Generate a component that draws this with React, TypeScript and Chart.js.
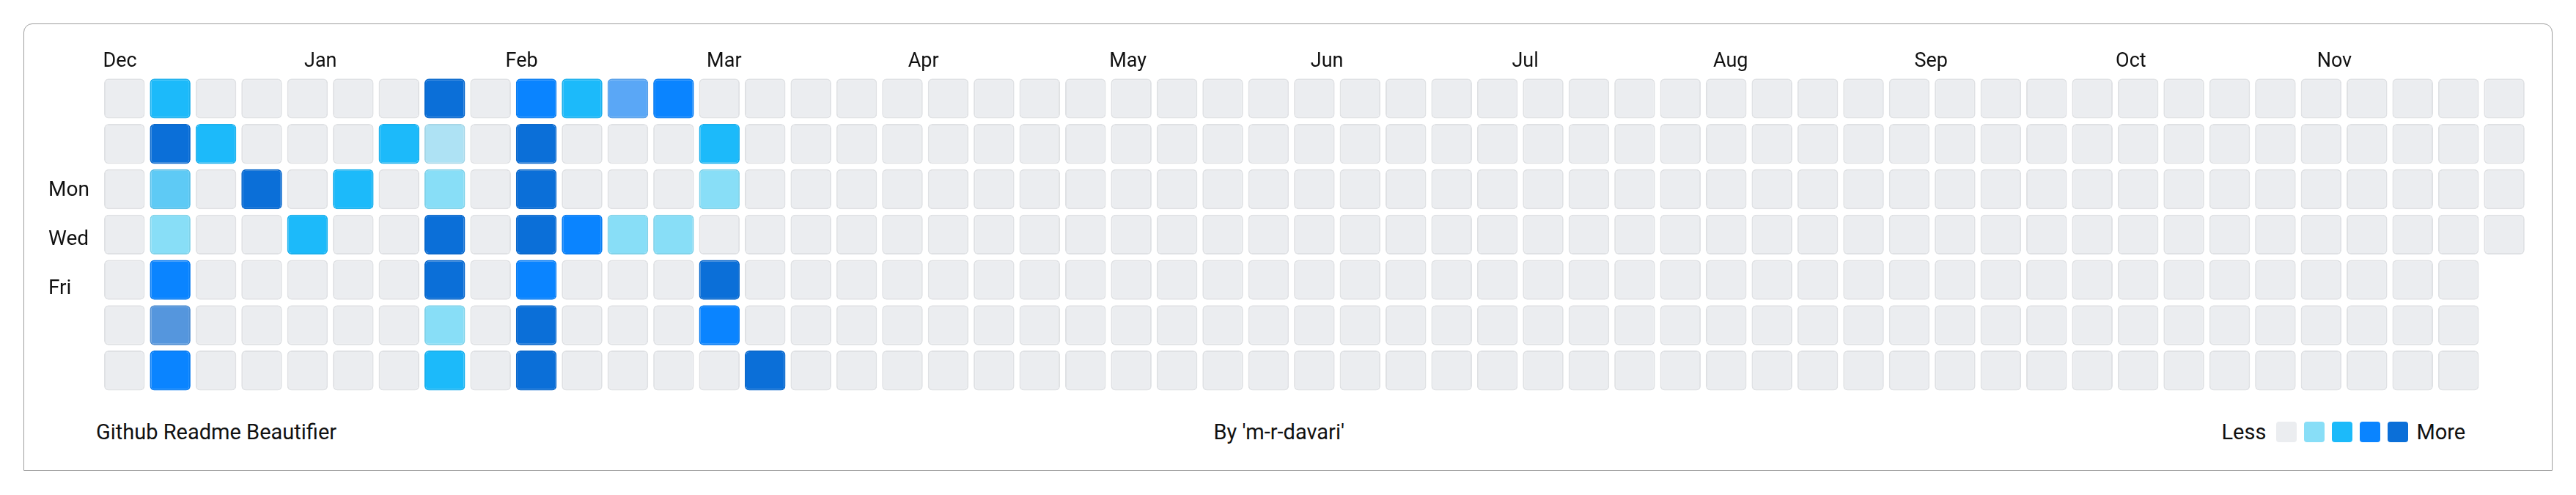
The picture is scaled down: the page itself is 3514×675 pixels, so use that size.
import React, { useEffect, useRef } from "react";
import { Chart, registerables } from "chart.js";

Chart.register(...registerables);

// ---- data ----
const monthLabels = ["Dec", "Jan", "Feb", "Mar", "Apr", "May", "Jun", "Jul", "Aug", "Sep", "Oct", "Nov"];
const dayNames = ["Sun", "Mon", "Tue", "Wed", "Thu", "Fri", "Sat"];
const dayLabels = ["", "Mon", "", "Wed", "", "Fri", ""];

// level index per week (0 = none ... 4 = most, 5-8 = softer shades seen in the picture)
const sunLevels = [0, 2, 0, 0, 0, 0, 0, 4, 0, 3, 2, 8, 3, 0, 0, 0, 0, 0, 0, 0, 0, 0, 0, 0, 0, 0, 0, 0, 0, 0, 0, 0, 0, 0, 0, 0, 0, 0, 0, 0, 0, 0, 0, 0, 0, 0, 0, 0, 0, 0, 0, 0, 0];
const monLevels = [0, 4, 2, 0, 0, 0, 2, 6, 0, 4, 0, 0, 0, 2, 0, 0, 0, 0, 0, 0, 0, 0, 0, 0, 0, 0, 0, 0, 0, 0, 0, 0, 0, 0, 0, 0, 0, 0, 0, 0, 0, 0, 0, 0, 0, 0, 0, 0, 0, 0, 0, 0, 0];
const tueLevels = [0, 5, 0, 4, 0, 2, 0, 1, 0, 4, 0, 0, 0, 1, 0, 0, 0, 0, 0, 0, 0, 0, 0, 0, 0, 0, 0, 0, 0, 0, 0, 0, 0, 0, 0, 0, 0, 0, 0, 0, 0, 0, 0, 0, 0, 0, 0, 0, 0, 0, 0, 0, 0];
const wedLevels = [0, 1, 0, 0, 2, 0, 0, 4, 0, 4, 3, 1, 1, 0, 0, 0, 0, 0, 0, 0, 0, 0, 0, 0, 0, 0, 0, 0, 0, 0, 0, 0, 0, 0, 0, 0, 0, 0, 0, 0, 0, 0, 0, 0, 0, 0, 0, 0, 0, 0, 0, 0, 0];
const thuLevels = [0, 3, 0, 0, 0, 0, 0, 4, 0, 3, 0, 0, 0, 4, 0, 0, 0, 0, 0, 0, 0, 0, 0, 0, 0, 0, 0, 0, 0, 0, 0, 0, 0, 0, 0, 0, 0, 0, 0, 0, 0, 0, 0, 0, 0, 0, 0, 0, 0, 0, 0, 0];
const friLevels = [0, 7, 0, 0, 0, 0, 0, 1, 0, 4, 0, 0, 0, 3, 0, 0, 0, 0, 0, 0, 0, 0, 0, 0, 0, 0, 0, 0, 0, 0, 0, 0, 0, 0, 0, 0, 0, 0, 0, 0, 0, 0, 0, 0, 0, 0, 0, 0, 0, 0, 0, 0];
const satLevels = [0, 3, 0, 0, 0, 0, 0, 2, 0, 4, 0, 0, 0, 0, 4, 0, 0, 0, 0, 0, 0, 0, 0, 0, 0, 0, 0, 0, 0, 0, 0, 0, 0, 0, 0, 0, 0, 0, 0, 0, 0, 0, 0, 0, 0, 0, 0, 0, 0, 0, 0, 0];
const rows = [sunLevels, monLevels, tueLevels, wedLevels, thuLevels, friLevels, satLevels];

const levelColors = ["#ebedf0", "#88def7", "#1cbafa", "#0a84ff", "#0b6fd8", "#5ecaf5", "#aee2f4", "#5596dd", "#5aa7f6"];
const legendLevels = [0, 1, 2, 3, 4];

const footerLeft = "Github Readme Beautifier";
const footerCenter = "By 'm-r-davari'";
const legendLess = "Less";
const legendMore = "More";

const FONT = "Roboto, 'Noto Sans', sans-serif";
const TEXT = "#111111";

function outline(hex: string): string {
  const n = parseInt(hex.slice(1), 16);
  const r = (n >> 16) & 255, g = (n >> 8) & 255, b = n & 255;
  const a = 0.06;
  const m = (c: number, o: number) => Math.round(c * (1 - a) + o * a);
  return `rgb(${m(r, 27)}, ${m(g, 31)}, ${m(b, 35)})`;
}

function Heatmap() {
  const ref = useRef<HTMLCanvasElement>(null);
  useEffect(() => {
    if (!ref.current) return;
    const weekCount = Math.max(...rows.map((r) => r.length));
    const labels = Array.from({ length: weekCount }, (_, i) => `W${i + 1}`);
    const datasets = rows.map((levels, r) => ({
      label: dayNames[r],
      data: levels.map(() => [r + 0.06, r + 0.94]),
      backgroundColor: levels.map((l) => levelColors[l]),
      borderColor: levels.map((l) => outline(levelColors[l])),
      borderWidth: 2,
      borderRadius: 6,
      borderSkipped: false,
      grouped: false,
      barPercentage: 1,
      categoryPercentage: 0.889,
      xAxisID: "x",
      yAxisID: "y",
    }));
    const chart = new Chart(ref.current, {
      type: "bar",
      data: { labels, datasets: datasets as any },
      options: {
        animation: false,
        responsive: true,
        maintainAspectRatio: false,
        events: [],
        layout: { padding: { left: 33, right: 33.7, top: 0, bottom: 13 } },
        plugins: { legend: { display: false }, tooltip: { enabled: false } },
        scales: {
          x: { type: "category", display: false, offset: true },
          y: { type: "linear", display: false, min: 0, max: 7, reverse: true },
          xMonths: {
            type: "linear",
            position: "top",
            offset: false,
            min: -0.007,
            max: 12.044,
            grid: { display: false, drawTicks: false, offset: false },
            border: { display: false },
            afterBuildTicks: (s: any) => {
              s.ticks = monthLabels.map((_, i) => ({ value: i }));
            },
            afterFit: (s: any) => {
              s.height = 70.5;
            },
            ticks: {
              autoSkip: false,
              maxRotation: 0,
              minRotation: 0,
              align: "start",
              padding: 3,
              color: TEXT,
              font: { family: FONT, size: 27 },
              callback: (v: any) => monthLabels[v] ?? "",
            },
          },
          yDays: {
            type: "linear",
            position: "left",
            offset: false,
            beginAtZero: false,
            min: -3.655,
            max: 9.225,
            reverse: true,
            grid: { display: false, drawTicks: false, offset: false },
            border: { display: false },
            afterBuildTicks: (s: any) => {
              s.ticks = dayLabels.map((_, i) => ({ value: i }));
            },
            afterFit: (s: any) => {
              s.width = 72.5;
            },
            ticks: {
              autoSkip: false,
              crossAlign: "far",
              padding: 0,
              color: TEXT,
              font: { family: FONT, size: 28 },
              callback: (v: any) => dayLabels[v] ?? "",
            },
          },
        } as any,
      },
    });
    return () => chart.destroy();
  }, []);
  return (
    <div style={{ position: "relative", height: 520 }}>
      <canvas ref={ref} />
    </div>
  );
}

export default function App() {
  return (
    <div style={{ padding: 24 }}>
      <div
        style={{
          position: "relative",
          height: 610,
          boxSizing: "border-box",
          border: "1px solid #9e9e9e",
          borderRadius: "12px 12px 0 0",
          background: "#fff",
          fontFamily: FONT,
          color: TEXT,
        }}
      >
        <Heatmap />
        <div
          style={{
            display: "flex",
            justifyContent: "space-between",
            alignItems: "center",
            height: 28,
            marginTop: 22,
            paddingLeft: 98,
            paddingRight: 117.8,
            fontSize: 29,
            lineHeight: "28px",
          }}
        >
          <span>{footerLeft}</span>
          <span>{footerCenter}</span>
          <div style={{ display: "flex", alignItems: "center", gap: 10 }}>
            <span style={{ marginRight: 4 }}>{legendLess}</span>
            {legendLevels.map((l) => (
              <div key={l} style={{ width: 28, height: 28, borderRadius: 4, background: levelColors[l] }} />
            ))}
            <span style={{ marginLeft: 1 }}>{legendMore}</span>
          </div>
        </div>
      </div>
    </div>
  );
}
